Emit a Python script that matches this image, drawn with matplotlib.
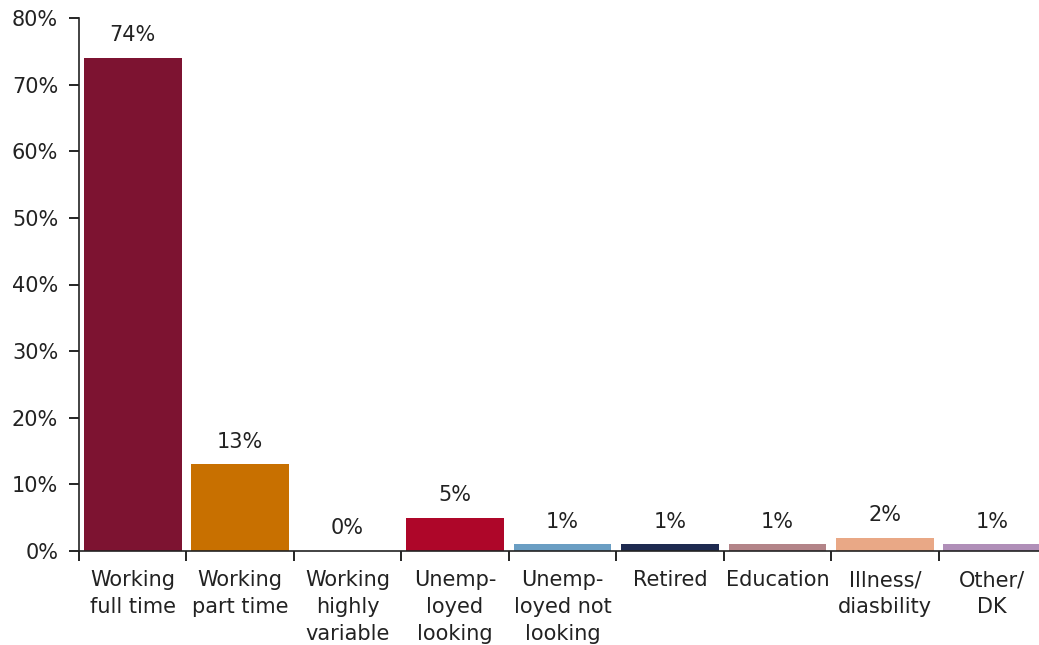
import matplotlib.pyplot as plt
from matplotlib.ticker import FixedLocator, PercentFormatter

categories = ["Working\nfull time", "Working\npart time", "Working\nhighly\nvariable",
              "Unemp-\nloyed\nlooking", "Unemp-\nloyed not\nlooking", "Retired",
              "Education", "Illness/\ndiasbility", "Other/\nDK"]
values = [74, 13, 0, 5, 1, 1, 1, 2, 1]
colors = ["#7D1331", "#C87000", "#FFFFFF", "#AE0629", "#6A9EC3",
          "#1E2A50", "#B38488", "#E9A886", "#B08FB8"]

plt.rcParams['font.family'] = ['DejaVu Sans']
fig = plt.figure(figsize=(10.39, 6.45), dpi=100)
ax = fig.add_axes([79/1039, 1 - 551/645, 967/1039, 533/645])

x = range(len(values))
bars = ax.bar(x, values, width=0.91, color=colors)
for xi, v in zip(x, values):
    ax.annotate(f"{v}%", (xi, v), xytext=(0, 9), textcoords="offset points",
                ha="center", va="bottom", fontsize=15, color="#222222")

ax.set_xlim(-0.5, len(values) - 0.5)
ax.set_ylim(0, 80)
ax.yaxis.set_major_formatter(PercentFormatter(decimals=0))
ax.set_yticks(range(0, 81, 10))
ax.set_xticks(list(x))
ax.set_xticklabels(categories, fontsize=15, linespacing=1.42, color="#222222")
ax.xaxis.set_minor_locator(FixedLocator([i - 0.5 for i in range(len(values) + 1)]))
ax.tick_params(axis="x", which="major", length=0, pad=14)
ax.tick_params(axis="x", which="minor", length=7, width=1.2, direction="out")
ax.tick_params(axis="y", length=7, width=1.2, direction="out", labelsize=15,
               pad=8, labelcolor="#222222")

for s in ["top", "right"]:
    ax.spines[s].set_visible(False)
for s in ["left", "bottom"]:
    ax.spines[s].set_linewidth(1.2)
    ax.spines[s].set_color("#222222")

fig.savefig("out.png", dpi=100)
